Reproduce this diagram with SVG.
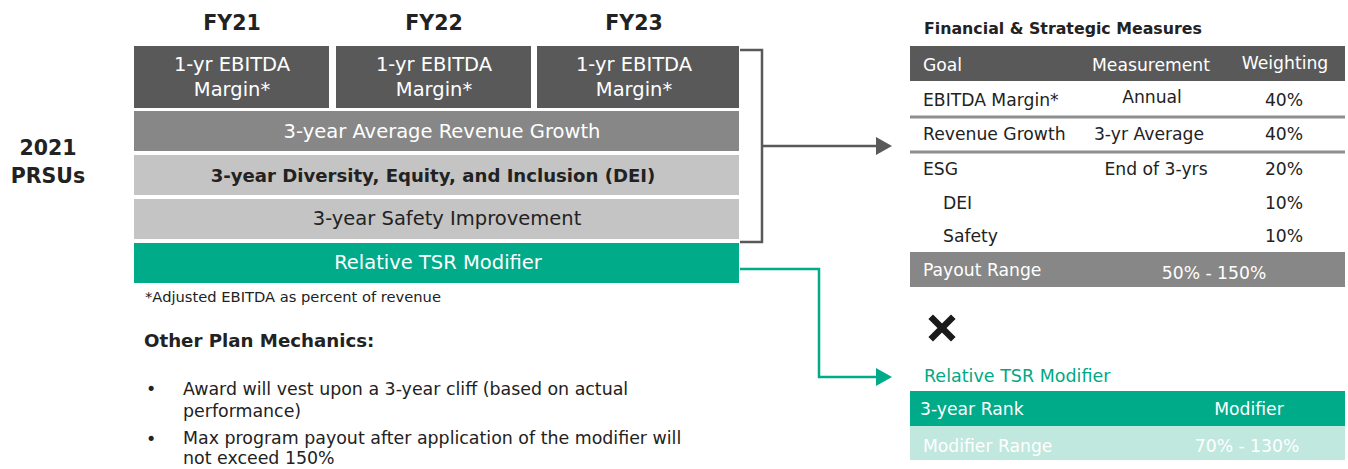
<svg xmlns="http://www.w3.org/2000/svg" width="1348" height="469" viewBox="0 0 1348 469">
<style>
text{font-family:"DejaVu Sans","Open Sans",sans-serif;}
.fy{font-size:20.5px;font-weight:bold;fill:#222;text-anchor:middle;}
.wc{font-size:19.5px;fill:#fff;text-anchor:middle;}
.dc{font-size:19.5px;fill:#222;text-anchor:middle;}
.dcb{font-size:18.1px;font-weight:bold;fill:#222;text-anchor:middle;}
.tl{font-size:17.2px;fill:#222;}
.tc{font-size:17.2px;fill:#222;text-anchor:middle;}
.hw{font-size:17.2px;fill:#fff;}
.hwc{font-size:17.2px;fill:#fff;text-anchor:middle;}
.body{font-size:17.4px;fill:#222;}
.dark{fill:#595959;}
.mid{fill:#878787;}
.light{fill:#c4c4c4;}
.green{fill:#00ab8a;}
.sep{stroke:#8e8e8e;stroke-width:3;}
</style>
<defs>
<marker id="arrG" markerWidth="16" markerHeight="18" refX="0" refY="9" orient="auto" markerUnits="userSpaceOnUse" viewBox="0 0 16 18"><path d="M0,0 L16,9 L0,18 Z" fill="#595959"/></marker>
<marker id="arrT" markerWidth="16" markerHeight="18" refX="0" refY="9" orient="auto" markerUnits="userSpaceOnUse" viewBox="0 0 16 18"><path d="M0,0 L16,9 L0,18 Z" fill="#00ab8a"/></marker>
</defs>
<rect width="1348" height="469" fill="#fff"/>

<g id="label-2021">
<text class="fy"><tspan x="48" y="155">2021</tspan><tspan x="48" y="183">PRSUs</tspan></text>
</g>

<g id="fy-headers">
<text x="232" y="30" class="fy">FY21</text>
<text x="434" y="30" class="fy">FY22</text>
<text x="634" y="30" class="fy">FY23</text>
</g>

<g id="fy21-box">
<rect x="134" y="46" width="195" height="62" class="dark"/>
<text class="wc"><tspan x="232" y="71">1-yr EBITDA</tspan><tspan x="232" y="96">Margin*</tspan></text>
</g>
<g id="fy22-box">
<rect x="336" y="46" width="195" height="62" class="dark"/>
<text class="wc"><tspan x="434" y="71">1-yr EBITDA</tspan><tspan x="434" y="96">Margin*</tspan></text>
</g>
<g id="fy23-box">
<rect x="537" y="46" width="202" height="62" class="dark"/>
<text class="wc"><tspan x="634" y="71">1-yr EBITDA</tspan><tspan x="634" y="96">Margin*</tspan></text>
</g>
<g id="revenue-row">
<rect x="134" y="111" width="605" height="40" class="mid"/>
<text x="442" y="138" class="wc">3-year Average Revenue Growth</text>
</g>
<g id="dei-row">
<rect x="134" y="155" width="605" height="40" class="light"/>
<text x="433" y="182" class="dcb">3-year Diversity, Equity, and Inclusion (DEI)</text>
</g>
<g id="safety-row">
<rect x="134" y="199" width="605" height="40" class="light"/>
<text x="447" y="225" class="dc">3-year Safety Improvement</text>
</g>
<g id="tsr-row">
<rect x="134" y="243" width="605" height="40" class="green"/>
<text x="438" y="269" class="wc">Relative TSR Modifier</text>
</g>

<g id="notes">
<text x="145" y="302" font-size="14.7" fill="#222">*Adjusted EBITDA as percent of revenue</text>
<text x="144" y="347" font-size="18.2" font-weight="bold" fill="#222">Other Plan Mechanics:</text>
<text x="146" y="395" class="body">•</text>
<text class="body"><tspan x="183" y="395">Award will vest upon a 3-year cliff (based on actual</tspan><tspan x="183" y="417">performance)</tspan></text>
<text x="146" y="445" class="body">•</text>
<text class="body"><tspan x="183" y="444">Max program payout after application of the modifier will</tspan><tspan x="183" y="464">not exceed 150%</tspan></text>
</g>

<g id="connectors">
<path d="M740,50 H762 V242 H740" fill="none" stroke="#595959" stroke-width="2.5"/>
<path d="M762,146 H876" fill="none" stroke="#595959" stroke-width="2.5" marker-end="url(#arrG)"/>
<path d="M740,269 H819 V377 H876" fill="none" stroke="#00ab8a" stroke-width="2.5" marker-end="url(#arrT)"/>
</g>

<g id="financial-table">
<text x="924" y="34" font-size="15.8" font-weight="bold" fill="#222">Financial &amp; Strategic Measures</text>
<rect x="910" y="46" width="435" height="35" class="dark"/>
<text x="923" y="71" class="hw">Goal</text>
<text x="1151" y="71" class="hwc">Measurement</text>
<text x="1285" y="69" class="hwc">Weighting</text>
<text x="923" y="106" class="tl">EBITDA Margin*</text>
<text x="1152" y="103" class="tc">Annual</text>
<text x="1284" y="106" class="tc">40%</text>
<line x1="910" y1="117" x2="1345" y2="117" class="sep"/>
<text x="923" y="140" class="tl">Revenue Growth</text>
<text x="1149" y="140" class="tc">3-yr Average</text>
<text x="1284" y="140" class="tc">40%</text>
<line x1="910" y1="152" x2="1345" y2="152" class="sep"/>
<text x="923" y="175" class="tl">ESG</text>
<text x="1156" y="175" class="tc">End of 3-yrs</text>
<text x="1284" y="175" class="tc">20%</text>
<text x="943" y="209" class="tl">DEI</text>
<text x="1284" y="209" class="tc">10%</text>
<text x="943" y="242" class="tl">Safety</text>
<text x="1284" y="242" class="tc">10%</text>
<rect x="910" y="252" width="435" height="35" class="mid"/>
<text x="923" y="276" class="hw">Payout Range</text>
<text x="1214" y="279" class="hwc">50% - 150%</text>
</g>

<g id="times-sign">
<path d="M933,319 L951,337 M951,319 L933,337" stroke="#1a1a1a" stroke-width="6.5" stroke-linecap="square"/>
</g>

<g id="tsr-table">
<text x="924" y="382" font-size="17.5" fill="#00a886">Relative TSR Modifier</text>
<rect x="910" y="391" width="435" height="35" class="green"/>
<text x="920" y="415" class="hw">3-year Rank</text>
<text x="1249" y="415" class="hwc">Modifier</text>
<rect x="910" y="426" width="435" height="34" fill="#c0e8de"/>
<text x="923" y="452" class="hw">Modifier Range</text>
<text x="1247" y="452" class="hwc">70% - 130%</text>
</g>
</svg>
